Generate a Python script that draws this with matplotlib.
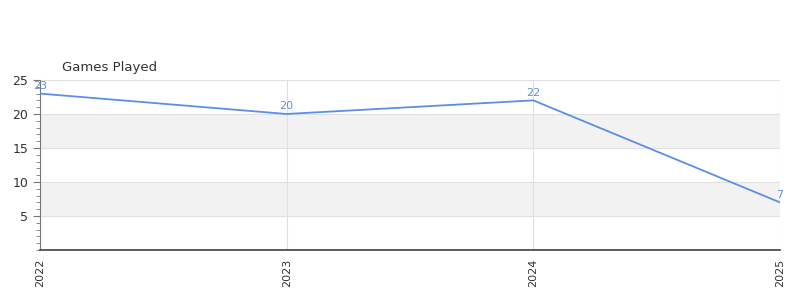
import matplotlib
matplotlib.use("Agg")
import matplotlib.pyplot as plt
from matplotlib.ticker import MultipleLocator

years = ["2022", "2023", "2024", "2025"]
games = [23, 20, 22, 7]
title = "Games Played"

line_color = "#5b8ee6"
fig = plt.figure(figsize=(8, 3), dpi=100)
ax = fig.add_axes([0.05, 0.1667, 0.925, 0.5667])

x = list(range(len(years)))
ax.set_xlim(0, len(years) - 1)
ax.set_ylim(0, 25)

for lo, hi in [(5, 10), (15, 20)]:
    ax.axhspan(lo, hi, color="#f2f2f2", zorder=0, lw=0)
for yv in [5, 10, 15, 20, 25]:
    ax.axhline(yv, color="#e0e0e0", lw=0.8, zorder=0.5)
for xv in x:
    ax.axvline(xv, color="#e0e0e0", lw=0.8, zorder=0.5)

ax.axhline(0, color="#cc0000", lw=1.0, zorder=2)
ax.plot(x, games, color=line_color, lw=1.3, zorder=3)
for xi, v in zip(x, games):
    ax.annotate(str(v), (xi, v), xytext=(0, 2), textcoords="offset points",
                ha="center", va="bottom", color=line_color, fontsize=8)

ax.set_xticks(x)
ax.set_xticklabels(years, rotation=90, fontsize=8, color="#333333")
ax.set_yticks([5, 10, 15, 20, 25])
ax.yaxis.set_minor_locator(MultipleLocator(1))
ax.tick_params(axis="y", which="major", length=5, color="#777777", labelsize=9, labelcolor="#333333")
ax.tick_params(axis="y", which="minor", length=3, color="#777777")
ax.tick_params(axis="x", length=0, pad=6)

for s in ["top", "right"]:
    ax.spines[s].set_visible(False)
ax.spines["left"].set_color("#777777")
ax.spines["bottom"].set_color("#444444")
ax.spines["bottom"].set_linewidth(1.2)

fig.text(62 / 800, 1 - 67 / 300, title, fontsize=9.5, color="#333333", va="center", ha="left")

fig.savefig("out.png", dpi=100)
